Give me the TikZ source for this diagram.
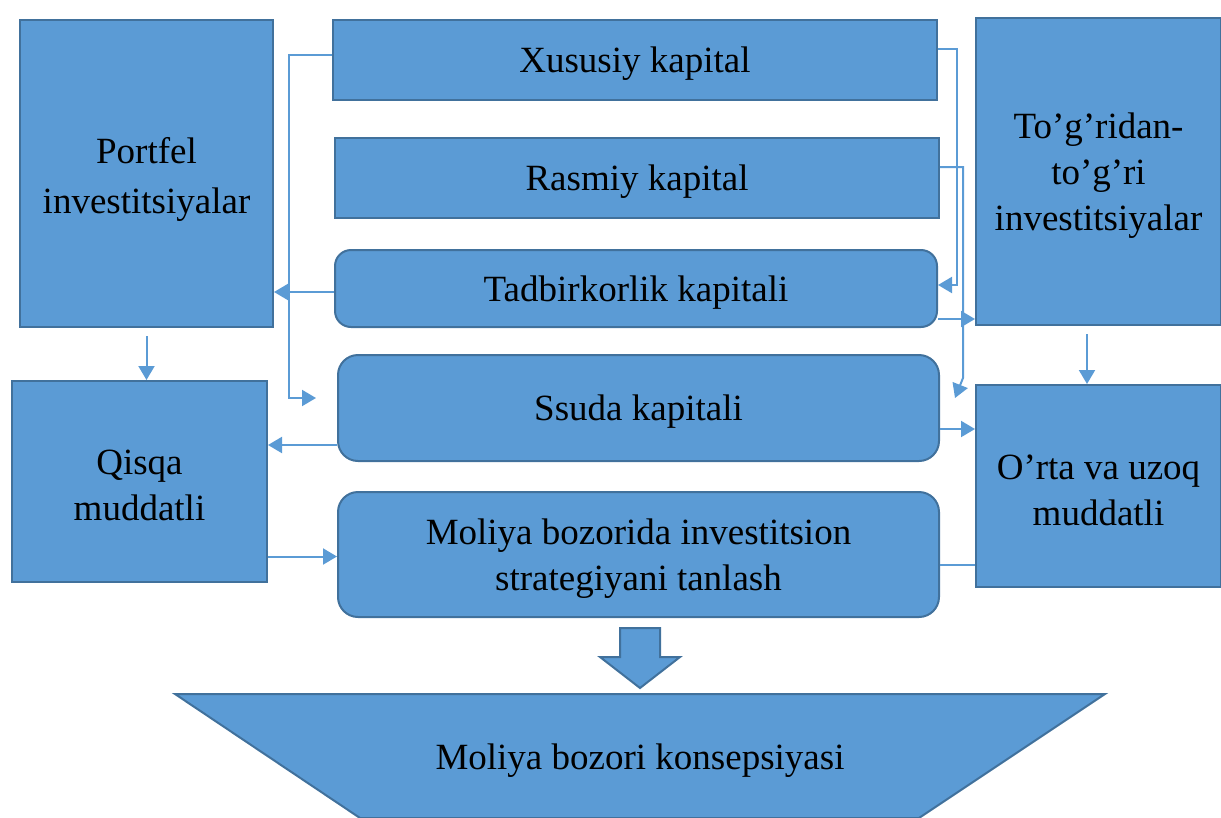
\documentclass[tikz,border=0pt]{standalone}
\usepackage{fontspec}
\setmainfont{Liberation Serif}
\usetikzlibrary{arrows.meta}
\definecolor{boxfill}{HTML}{5B9BD5}
\definecolor{boxline}{HTML}{41719C}
\definecolor{conncol}{HTML}{5B9BD5}
\tikzset{
  box/.style={draw=boxline, line width=2pt, fill=boxfill, inner sep=0pt},
  rbox/.style={box, rounded corners=16pt},
  txt/.style={align=center, inner sep=0pt, yshift=-4pt, font=\fontsize{37}{46}\selectfont},
  conn/.style={draw=conncol, line width=2pt, -{Triangle[length=14pt,width=16pt]}},
  plain/.style={draw=conncol, line width=2pt}
}
\begin{document}
\begin{tikzpicture}[x=1pt,y=-1pt]
\useasboundingbox (0,0) rectangle (1221,817);
\clip (0,0) rectangle (1221,817);
% boxes
\node[box, minimum width=253pt, minimum height=307pt, label={[txt, yshift=-2pt, font=\fontsize{37}{50}\selectfont]center:{Portfel\\investitsiyalar}}] (port) at (146.5,173.5) {};
\node[box, minimum width=604pt, minimum height=80pt, label={[txt]center:{Xususiy kapital}}] (xus) at (635,60) {};
\node[box, minimum width=604pt, minimum height=80pt, label={[txt]center:{Rasmiy kapital}}] (ras) at (637,178) {};
\node[rbox, minimum width=602pt, minimum height=77pt, label={[txt]center:{Tadbirkorlik kapitali}}] (tad) at (636,288.5) {};
\node[rbox, rounded corners=20pt, minimum width=601pt, minimum height=106pt, label={[txt]center:{Ssuda kapitali}}] (ssu) at (638.5,408) {};
\node[rbox, rounded corners=20pt, minimum width=601pt, minimum height=125pt, label={[txt]center:{Moliya bozorida investitsion\\strategiyani tanlash}}] (mol) at (638.5,554.5) {};
\node[box, minimum width=245pt, minimum height=307pt, label={[txt]center:{To’g’ridan-\\to’g’ri\\investitsiyalar}}] (tog) at (1098.5,171.5) {};
\node[box, minimum width=255pt, minimum height=201pt, label={[txt]center:{Qisqa\\muddatli}}] (qis) at (139.5,481.5) {};
\node[box, minimum width=245pt, minimum height=202pt, label={[txt]center:{O’rta va uzoq\\muddatli}}] (ort) at (1098.5,486) {};
% big arrow
\draw[draw=boxline, line width=2pt, fill=boxfill]
  (620,628) -- (660,628) -- (660,657) -- (680,657) -- (640,688) -- (600,657) -- (620,657) -- cycle;
% bottom trapezoid
\draw[draw=boxline, line width=2pt, fill=boxfill]
  (175,694) -- (1105,694) -- (919,818) -- (360,818) -- cycle;
\node[txt] (kon) at (640,757) {Moliya bozori konsepsiyasi};
% named coordinates for free ends and bends
\coordinate (a1) at (289,55);
\coordinate (a2) at (289,398);
\coordinate (a3) at (316,398);
\coordinate (b1) at (957,49);
\coordinate (b2) at (957,285);
\coordinate (c1) at (963,167);
\coordinate (c2) at (963,378);
\coordinate (c3) at (955,398);
% connectors
\draw[conn] ([yshift=5pt]xus.west) -- (a1) -- (a2) -- (a3);
\draw[conn] ([yshift=-3.5pt]tad.west) -- ([yshift=-3.5pt]tad.west -| port.east);
\draw[conn] ([yshift=-8pt]port.south) -- (qis.north -| port.south);
\draw[conn] ([yshift=-37pt]ssu.west) -- ([yshift=-37pt]ssu.west -| qis.east);
\draw[conn] ([yshift=-75pt]qis.east) -- ([yshift=-75pt]qis.east -| mol.west);
\draw[conn] ([yshift=11pt]xus.east) -- (b1) -- (b2) -- (b2 -| tad.east);
\draw[conn] ([yshift=11pt]ras.east) -- (c1) -- (c2) -- (c3);
\draw[conn] ([yshift=-30.5pt]tad.east) -- ([yshift=-30.5pt]tad.east -| tog.west);
\draw[conn] ([yshift=-21pt]ssu.east) -- ([yshift=-21pt]ssu.east -| ort.west);
\draw[plain] ([yshift=-10.5pt]mol.east) -- ([yshift=-10.5pt]mol.east -| ort.west);
\draw[conn] ([yshift=-8pt]tog.south -| 1087,0) -- (ort.north -| 1087,0);
\end{tikzpicture}
\end{document}
